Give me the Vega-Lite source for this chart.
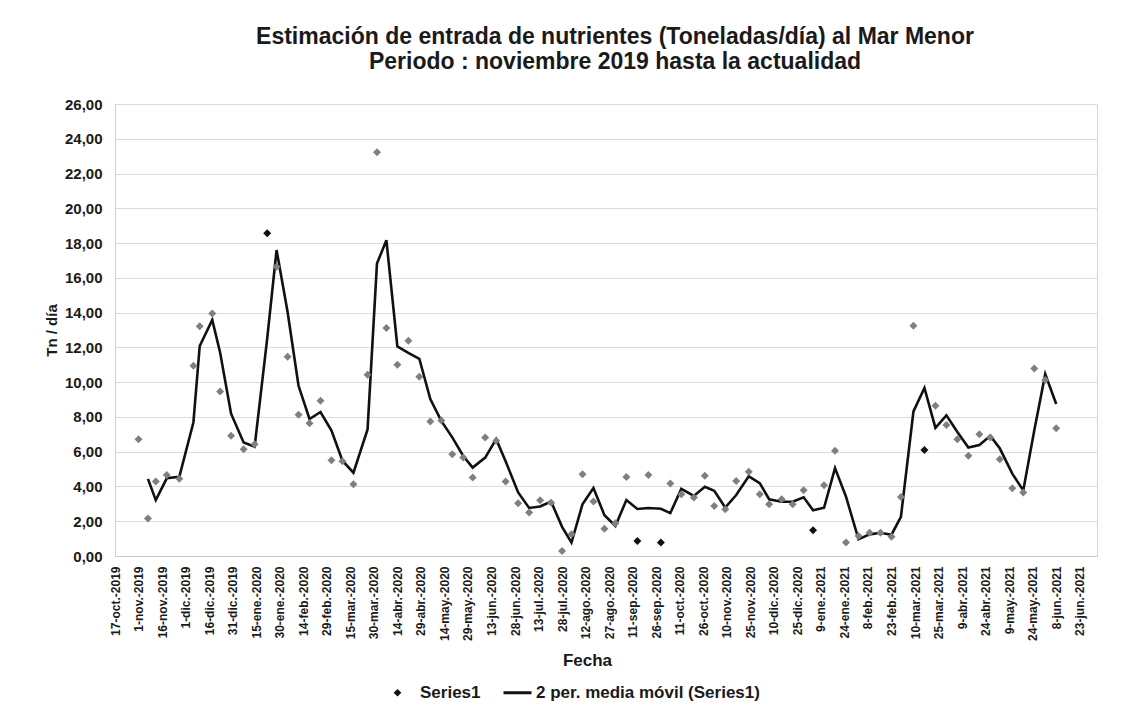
{
  "$schema": "https://vega.github.io/schema/vega-lite/v6.json",
  "width": 982,
  "height": 452,
  "autosize": {"type": "none"},
  "padding": {"left": 115, "top": 104, "right": 24, "bottom": 152},
  "background": "white",
  "title": {
    "text": ["Estimación de entrada de nutrientes (Toneladas/día) al  Mar Menor", "Periodo : noviembre 2019 hasta la actualidad"],
    "font": "Liberation Sans",
    "fontSize": 23,
    "fontWeight": "bold",
    "color": "#1a1a1a",
    "lineHeight": 25,
    "anchor": "middle",
    "offset": 23,
    "dx": 9
  },
  "config": {
    "view": {"stroke": "#d6d6d6", "strokeWidth": 1}
  },
  "data": {
    "values": [
      {"fecha": "2019-11-01", "valor": 6.72},
      {"fecha": "2019-11-07", "valor": 2.15},
      {"fecha": "2019-11-12", "valor": 4.28},
      {"fecha": "2019-11-19", "valor": 4.66},
      {"fecha": "2019-11-27", "valor": 4.45},
      {"fecha": "2019-12-06", "valor": 10.94},
      {"fecha": "2019-12-10", "valor": 13.22},
      {"fecha": "2019-12-18", "valor": 13.95},
      {"fecha": "2019-12-23", "valor": 9.46},
      {"fecha": "2019-12-30", "valor": 6.91},
      {"fecha": "2020-01-07", "valor": 6.14},
      {"fecha": "2020-01-14", "valor": 6.43},
      {"fecha": "2020-01-22", "valor": 18.56, "destacado": true},
      {"fecha": "2020-01-28", "valor": 16.64},
      {"fecha": "2020-02-04", "valor": 11.46},
      {"fecha": "2020-02-11", "valor": 8.12},
      {"fecha": "2020-02-18", "valor": 7.64},
      {"fecha": "2020-02-25", "valor": 8.93},
      {"fecha": "2020-03-03", "valor": 5.51},
      {"fecha": "2020-03-10", "valor": 5.45},
      {"fecha": "2020-03-17", "valor": 4.13},
      {"fecha": "2020-03-26", "valor": 10.42},
      {"fecha": "2020-04-01", "valor": 23.22},
      {"fecha": "2020-04-07", "valor": 13.11},
      {"fecha": "2020-04-14", "valor": 11.0},
      {"fecha": "2020-04-21", "valor": 12.38},
      {"fecha": "2020-04-28", "valor": 10.31},
      {"fecha": "2020-05-05", "valor": 7.74},
      {"fecha": "2020-05-12", "valor": 7.8},
      {"fecha": "2020-05-19", "valor": 5.85},
      {"fecha": "2020-05-26", "valor": 5.66},
      {"fecha": "2020-06-01", "valor": 4.51},
      {"fecha": "2020-06-09", "valor": 6.81},
      {"fecha": "2020-06-16", "valor": 6.63},
      {"fecha": "2020-06-22", "valor": 4.28},
      {"fecha": "2020-06-30", "valor": 3.03},
      {"fecha": "2020-07-07", "valor": 2.5},
      {"fecha": "2020-07-14", "valor": 3.2},
      {"fecha": "2020-07-21", "valor": 3.06},
      {"fecha": "2020-07-28", "valor": 0.29},
      {"fecha": "2020-08-03", "valor": 1.25},
      {"fecha": "2020-08-10", "valor": 4.7},
      {"fecha": "2020-08-17", "valor": 3.13},
      {"fecha": "2020-08-24", "valor": 1.57},
      {"fecha": "2020-08-31", "valor": 1.89},
      {"fecha": "2020-09-07", "valor": 4.55},
      {"fecha": "2020-09-14", "valor": 0.86, "destacado": true},
      {"fecha": "2020-09-21", "valor": 4.66},
      {"fecha": "2020-09-29", "valor": 0.77, "destacado": true},
      {"fecha": "2020-10-05", "valor": 4.17},
      {"fecha": "2020-10-12", "valor": 3.55},
      {"fecha": "2020-10-20", "valor": 3.36},
      {"fecha": "2020-10-27", "valor": 4.61},
      {"fecha": "2020-11-02", "valor": 2.88},
      {"fecha": "2020-11-09", "valor": 2.69},
      {"fecha": "2020-11-16", "valor": 4.32},
      {"fecha": "2020-11-24", "valor": 4.84},
      {"fecha": "2020-12-01", "valor": 3.55},
      {"fecha": "2020-12-07", "valor": 2.98},
      {"fecha": "2020-12-15", "valor": 3.26},
      {"fecha": "2020-12-22", "valor": 2.98},
      {"fecha": "2020-12-29", "valor": 3.78},
      {"fecha": "2021-01-04", "valor": 1.48, "destacado": true},
      {"fecha": "2021-01-11", "valor": 4.07},
      {"fecha": "2021-01-18", "valor": 6.05},
      {"fecha": "2021-01-25", "valor": 0.77},
      {"fecha": "2021-02-02", "valor": 1.15},
      {"fecha": "2021-02-09", "valor": 1.34},
      {"fecha": "2021-02-16", "valor": 1.34},
      {"fecha": "2021-02-23", "valor": 1.11},
      {"fecha": "2021-03-01", "valor": 3.4},
      {"fecha": "2021-03-09", "valor": 13.24},
      {"fecha": "2021-03-16", "valor": 6.1, "destacado": true},
      {"fecha": "2021-03-23", "valor": 8.64},
      {"fecha": "2021-03-30", "valor": 7.54},
      {"fecha": "2021-04-06", "valor": 6.72},
      {"fecha": "2021-04-13", "valor": 5.76},
      {"fecha": "2021-04-20", "valor": 7.0},
      {"fecha": "2021-04-27", "valor": 6.82},
      {"fecha": "2021-05-03", "valor": 5.57},
      {"fecha": "2021-05-11", "valor": 3.9},
      {"fecha": "2021-05-18", "valor": 3.65},
      {"fecha": "2021-05-25", "valor": 10.79},
      {"fecha": "2021-06-01", "valor": 10.13},
      {"fecha": "2021-06-08", "valor": 7.35}
    ]
  },
  "encoding": {
    "x": {
      "field": "fecha",
      "type": "temporal",
      "scale": {
        "type": "utc",
        "domain": [
          {"year": 2019, "month": 10, "date": 17, "utc": true},
          {"year": 2021, "month": 7, "date": 4, "utc": true}
        ]
      },
      "axis": {
        "title": "Fecha",
        "values": [
          {"year": 2019, "month": 10, "date": 17, "utc": true},
          {"year": 2019, "month": 11, "date": 1, "utc": true},
          {"year": 2019, "month": 11, "date": 16, "utc": true},
          {"year": 2019, "month": 12, "date": 1, "utc": true},
          {"year": 2019, "month": 12, "date": 16, "utc": true},
          {"year": 2019, "month": 12, "date": 31, "utc": true},
          {"year": 2020, "month": 1, "date": 15, "utc": true},
          {"year": 2020, "month": 1, "date": 30, "utc": true},
          {"year": 2020, "month": 2, "date": 14, "utc": true},
          {"year": 2020, "month": 2, "date": 29, "utc": true},
          {"year": 2020, "month": 3, "date": 15, "utc": true},
          {"year": 2020, "month": 3, "date": 30, "utc": true},
          {"year": 2020, "month": 4, "date": 14, "utc": true},
          {"year": 2020, "month": 4, "date": 29, "utc": true},
          {"year": 2020, "month": 5, "date": 14, "utc": true},
          {"year": 2020, "month": 5, "date": 29, "utc": true},
          {"year": 2020, "month": 6, "date": 13, "utc": true},
          {"year": 2020, "month": 6, "date": 28, "utc": true},
          {"year": 2020, "month": 7, "date": 13, "utc": true},
          {"year": 2020, "month": 7, "date": 28, "utc": true},
          {"year": 2020, "month": 8, "date": 12, "utc": true},
          {"year": 2020, "month": 8, "date": 27, "utc": true},
          {"year": 2020, "month": 9, "date": 11, "utc": true},
          {"year": 2020, "month": 9, "date": 26, "utc": true},
          {"year": 2020, "month": 10, "date": 11, "utc": true},
          {"year": 2020, "month": 10, "date": 26, "utc": true},
          {"year": 2020, "month": 11, "date": 10, "utc": true},
          {"year": 2020, "month": 11, "date": 25, "utc": true},
          {"year": 2020, "month": 12, "date": 10, "utc": true},
          {"year": 2020, "month": 12, "date": 25, "utc": true},
          {"year": 2021, "month": 1, "date": 9, "utc": true},
          {"year": 2021, "month": 1, "date": 24, "utc": true},
          {"year": 2021, "month": 2, "date": 8, "utc": true},
          {"year": 2021, "month": 2, "date": 23, "utc": true},
          {"year": 2021, "month": 3, "date": 10, "utc": true},
          {"year": 2021, "month": 3, "date": 25, "utc": true},
          {"year": 2021, "month": 4, "date": 9, "utc": true},
          {"year": 2021, "month": 4, "date": 24, "utc": true},
          {"year": 2021, "month": 5, "date": 9, "utc": true},
          {"year": 2021, "month": 5, "date": 24, "utc": true},
          {"year": 2021, "month": 6, "date": 8, "utc": true},
          {"year": 2021, "month": 6, "date": 23, "utc": true}
        ],
        "labelExpr": "utcdate(datum.value) + '-' + ['ene.','feb.','mar.','abr.','may.','jun.','jul.','ago.','sep.','oct.','nov.','dic.'][utcmonth(datum.value)] + '-' + utcyear(datum.value)",
        "labelAngle": 270,
        "labelFont": "Liberation Sans",
        "labelFontSize": 12,
        "labelFontWeight": "bold",
        "labelColor": "#1a1a1a",
        "labelPadding": 10,
        "labelOverlap": false,
        "labelBound": false,
        "ticks": false,
        "grid": false,
        "domainColor": "#c8c8c8",
        "titleFont": "Liberation Sans",
        "titleFontSize": 17,
        "titleFontWeight": "bold",
        "titleColor": "#1a1a1a",
        "titlePadding": 12,
        "titleX": 472
      }
    },
    "y": {
      "type": "quantitative",
      "scale": {"domain": [0, 26], "nice": false, "zero": true},
      "axis": {
        "title": "Tn / día",
        "values": [0, 2, 4, 6, 8, 10, 12, 14, 16, 18, 20, 22, 24, 26],
        "labelExpr": "replace(format(datum.value, '.2f'), '.', ',')",
        "labelFont": "Liberation Sans",
        "labelFontSize": 15,
        "labelFontWeight": "bold",
        "labelColor": "#1a1a1a",
        "labelPadding": 13,
        "ticks": false,
        "domainColor": "#d0d0d0",
        "gridColor": "#dcdcdc",
        "gridWidth": 1.2,
        "titleFont": "Liberation Sans",
        "titleFontSize": 15,
        "titleFontWeight": "bold",
        "titleColor": "#1a1a1a",
        "titlePadding": 5
      }
    }
  },
  "layer": [
    {
      "transform": [
        {"window": [{"op": "mean", "field": "valor", "as": "media"}, {"op": "row_number", "as": "n"}], "frame": [-1, 0], "sort": [{"field": "fecha"}]},
        {"filter": "datum.n > 1"}
      ],
      "mark": {"type": "line", "strokeWidth": 2.6, "strokeJoin": "miter"},
      "encoding": {
        "y": {"field": "media", "type": "quantitative"},
        "color": {
          "datum": "2 per. media móvil (Series1)",
          "scale": {"domain": ["Series1", "2 per. media móvil (Series1)"], "range": ["#111111", "#111111"]},
          "legend": {
            "title": null,
            "orient": "none",
            "legendX": 274,
            "legendY": 580,
            "direction": "horizontal",
            "labelFont": "Liberation Sans",
            "labelFontSize": 17,
            "labelFontWeight": "bold",
            "labelColor": "#1a1a1a",
            "labelLimit": 0,
            "symbolSize": 784,
            "symbolStrokeWidth": 3,
            "columnPadding": 16,
            "labelOffset": 6,
            "encode": {
              "symbols": {
                "update": {
                  "shape": {"signal": "datum.value === 'Series1' ? 'diamond' : 'stroke'"},
                  "size": {"signal": "datum.value === 'Series1' ? 60 : 784"},
                  "fill": {"signal": "datum.value === 'Series1' ? '#111111' : 'transparent'"},
                  "stroke": {"value": "#111111"},
                  "strokeWidth": {"signal": "datum.value === 'Series1' ? 0 : 3"}
                }
              },
              "labels": {
                "update": {
                  "dx": {"signal": "datum.value === 'Series1' ? 8 : 4"}
                }
              }
            }
          }
        }
      }
    },
    {
      "mark": {"type": "point", "shape": "diamond", "filled": true, "size": 64, "opacity": 1},
      "encoding": {
        "y": {"field": "valor", "type": "quantitative"},
        "fill": {"condition": {"test": "datum.destacado", "value": "#111111"}, "value": "#7f7f7f"}
      }
    }
  ]
}
